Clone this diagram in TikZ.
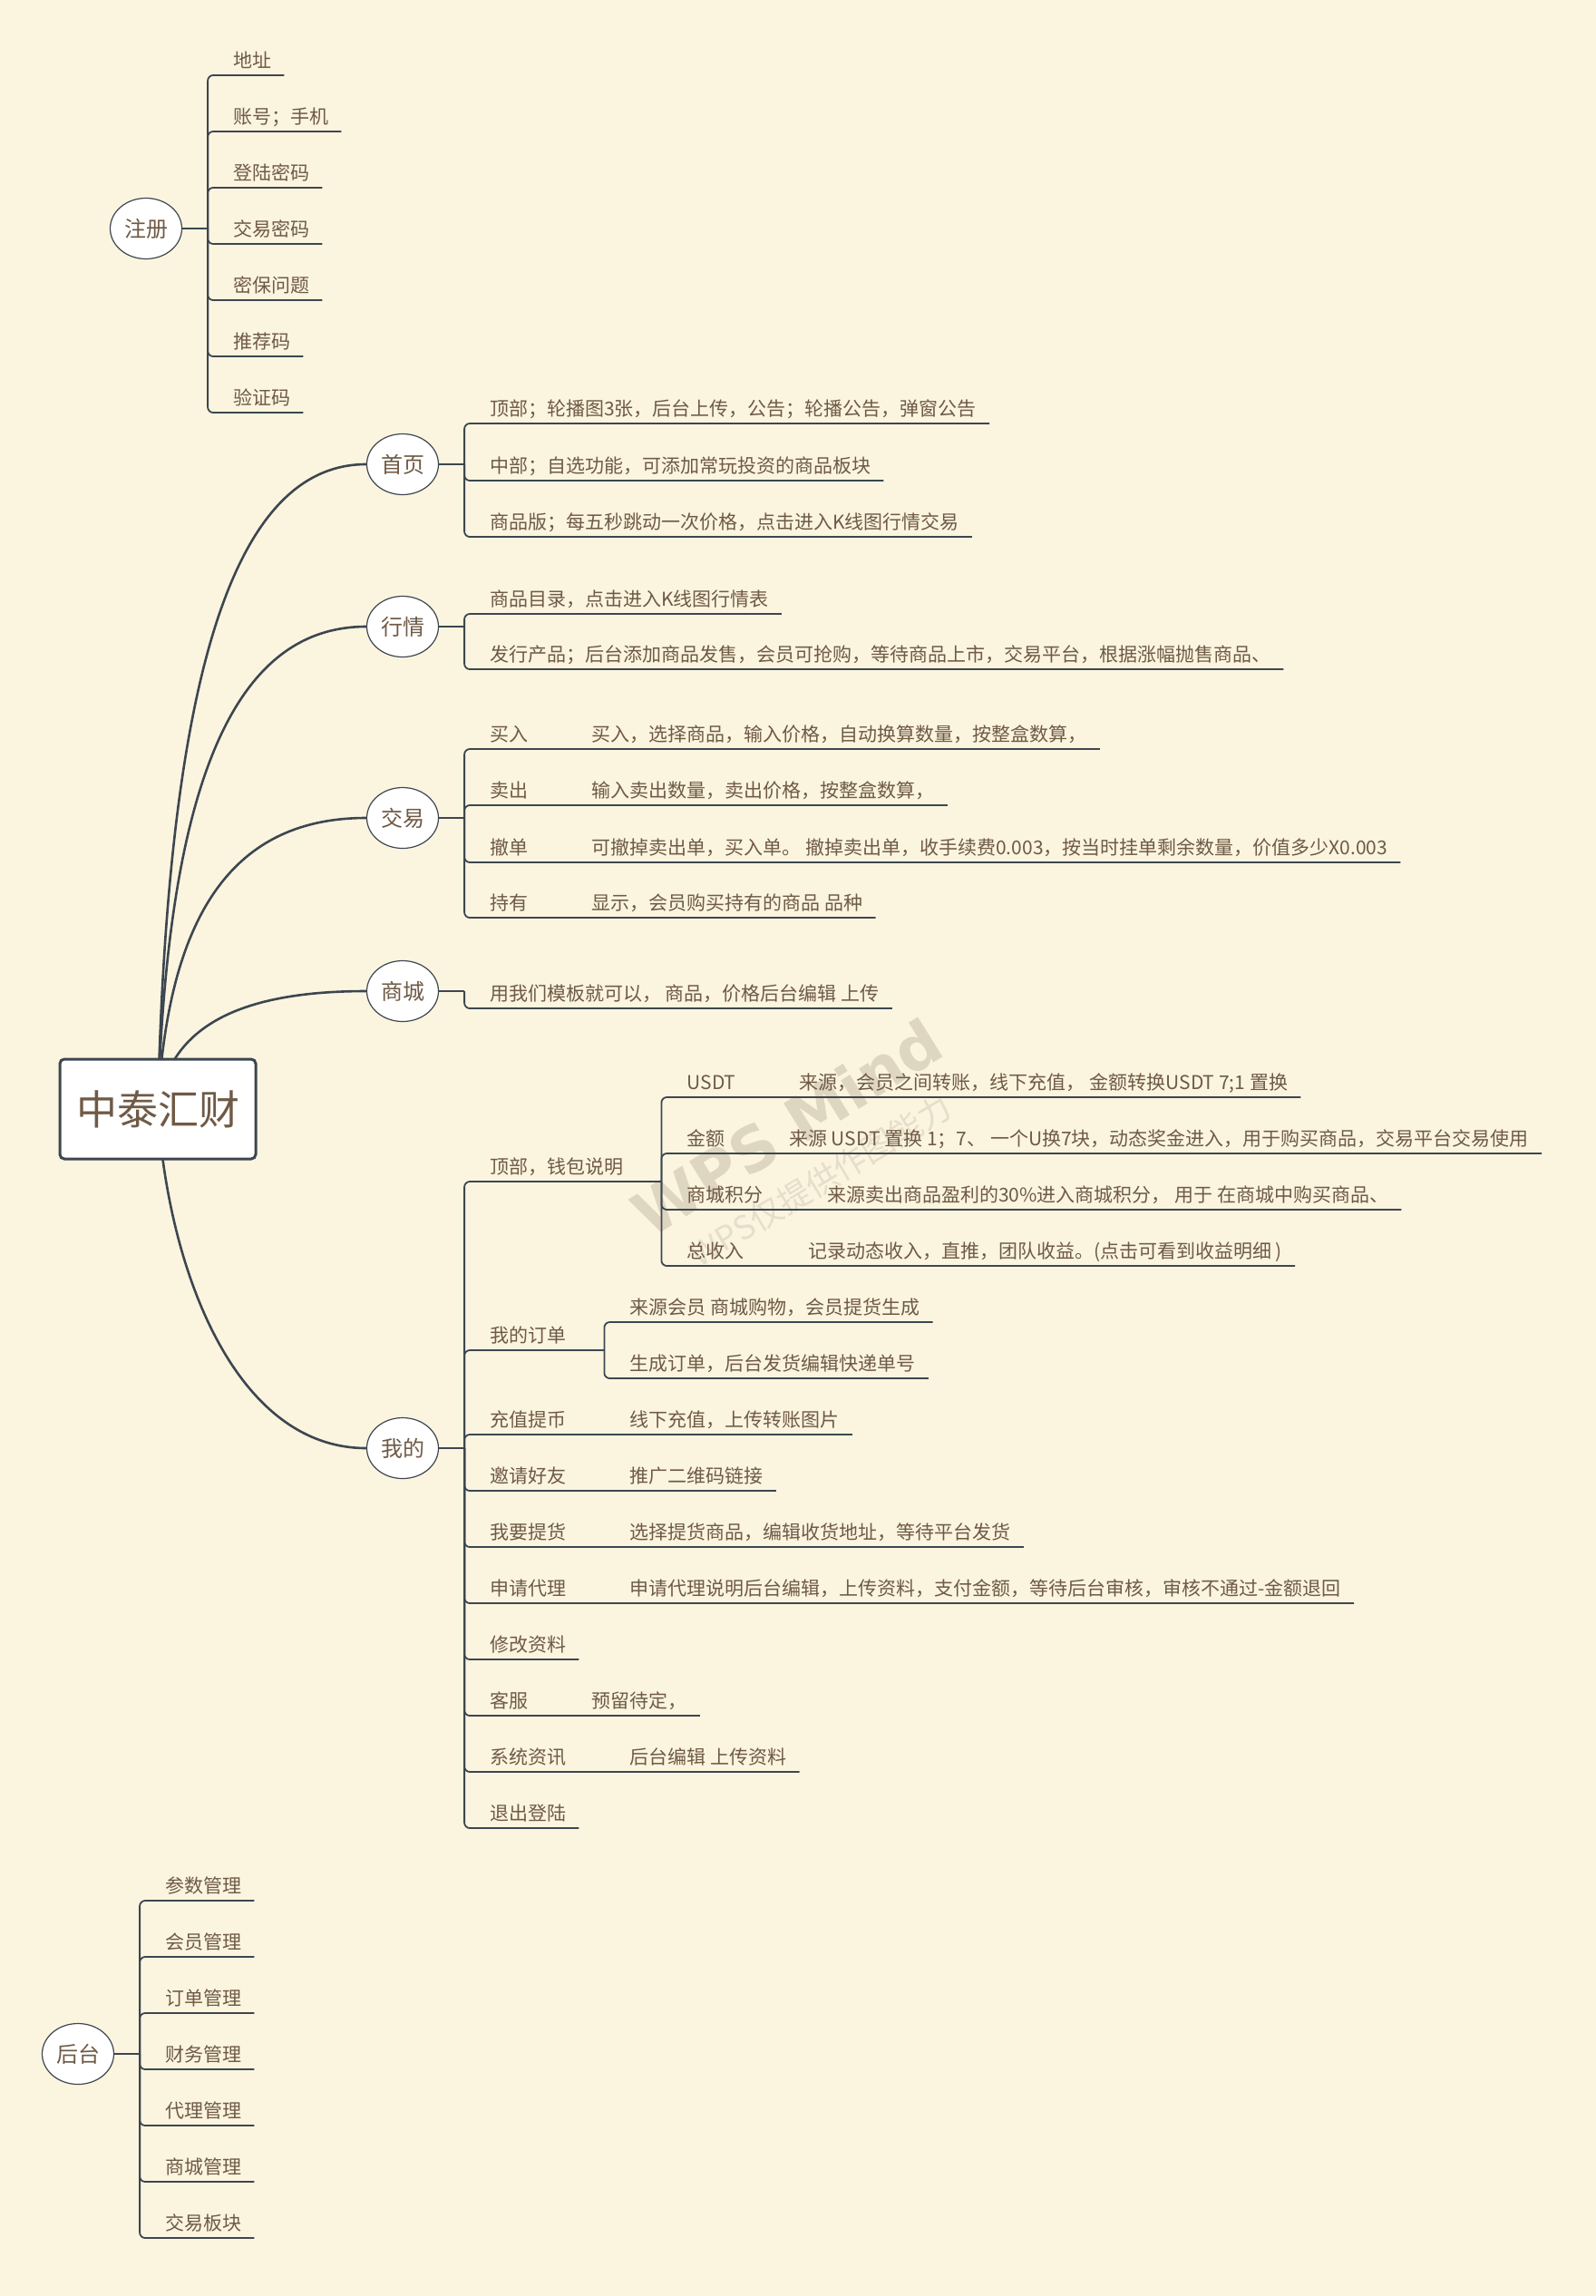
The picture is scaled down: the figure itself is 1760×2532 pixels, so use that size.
\documentclass[tikz,border=0pt]{standalone}
\usepackage{fontspec}
\setmainfont{Noto Sans CJK SC}
\newfontfamily\wmfont{DejaVu Sans}
\usetikzlibrary{shapes.geometric}
\pgfdeclarelayer{bg}
\pgfsetlayers{bg,main}
\definecolor{bgc}{HTML}{FBF5DF}
\definecolor{lc}{HTML}{3D4650}
\definecolor{tc}{HTML}{6F5A45}
\definecolor{wmc}{HTML}{DFD6C1}
\definecolor{wmd}{HTML}{E6DECA}
\begin{document}
\begin{tikzpicture}[x=1pt,y=-1pt,
  txt/.style={font=\fontsize{21}{25}\selectfont, text=tc, inner xsep=14pt, inner ysep=4pt, text depth=4pt, anchor=south west},
  mainn/.style={ellipse, draw=lc, line width=1.2pt, fill=white, minimum width=79pt, minimum height=67pt, inner sep=0pt, font=\fontsize{24}{28}\selectfont, text=tc},
  rootn/.style={rectangle, rounded corners=5pt, draw=lc, line width=3pt, fill=white, minimum width=216pt, minimum height=110pt, font=\fontsize{45}{50}\selectfont, text=tc},
  br/.style={draw=lc, line width=1.8pt, rounded corners=6pt},
  stem/.style={draw=lc, line width=2.4pt},
  curve/.style={draw=lc, line width=2.6pt}]
\begin{pgfonlayer}{bg}
\fill[bgc] (0,0) rectangle (1760,2532);
\node[rotate=32, text=wmc, font=\wmfont\bfseries\fontsize{68}{70}\selectfont] (wm1) at (868,1243) {WPS Mind};
\node[rotate=31, text=wmd, font=\fontsize{36}{40}\selectfont] (wm2) at (905,1302) {WPS仅提供作图能力};
\end{pgfonlayer}
\useasboundingbox (0,0) rectangle (1760,2532);

% root and main topics
\node[rootn] (root) at (174,1223) {中泰汇财};
\node[mainn] (zc) at (161,252) {注册};
\node[mainn] (sy) at (444,512) {首页};
\node[mainn] (hq) at (444,691) {行情};
\node[mainn] (jy) at (444,902) {交易};
\node[mainn] (sc) at (444,1093) {商城};
\node[mainn] (wd) at (444,1597) {我的};
\node[mainn] (ht) at (86,2265) {后台};

\foreach \n in {zc,sy,hq,jy,sc,wd,ht}{
  \coordinate (j\n) at ([xshift=28pt]\n.east);
  \draw[stem] (\n.east) -- (j\n);
}

\begin{pgfonlayer}{bg}
\draw[curve] (root.center) .. controls (185,740) and (259,512) .. (sy.west);
\draw[curve] (root.center) .. controls (185,861) and (259,691) .. (hq.west);
\draw[curve] (root.center) .. controls (185,1005) and (259,902) .. (jy.west);
\draw[curve] (root.center) .. controls (185,1135) and (259,1093) .. (sc.west);
\draw[curve] (root.center) .. controls (185,1400) and (259,1597) .. (wd.west);
\end{pgfonlayer}

% 注册
\node[txt] (zc1) at (243,83) {地址};
\node[txt] (zc2) at (243,145) {账号；手机};
\node[txt] (zc3) at (243,207) {登陆密码};
\node[txt] (zc4) at (243,269) {交易密码};
\node[txt] (zc5) at (243,331) {密保问题};
\node[txt] (zc6) at (243,393) {推荐码};
\node[txt] (zc7) at (243,455) {验证码};
\foreach \i in {1,...,7}{\draw[br] (jzc) |- (zc\i.south east);}

% 首页
\node[txt] (sy1) at (526,467) {顶部；轮播图3张，后台上传，公告；轮播公告，弹窗公告};
\node[txt] (sy2) at (526,530) {中部；自选功能，可添加常玩投资的商品板块};
\node[txt] (sy3) at (526,592) {商品版；每五秒跳动一次价格，点击进入K线图行情交易};
\foreach \i in {1,2,3}{\draw[br] (jsy) |- (sy\i.south east);}

% 行情
\node[txt] (hq1) at (526,677) {商品目录，点击进入K线图行情表};
\node[txt] (hq2) at (526,738) {发行产品；后台添加商品发售，会员可抢购，等待商品上市，交易平台，根据涨幅抛售商品、};
\foreach \i in {1,2}{\draw[br] (jhq) |- (hq\i.south east);}

% 交易
\node[txt] (jy1) at (526,826) {买入};
\node[txt] (jy1d) at ([xshift=42pt]jy1.south east) {买入，选择商品，输入价格，自动换算数量，按整盒数算，};
\node[txt] (jy2) at (526,888) {卖出};
\node[txt] (jy2d) at ([xshift=42pt]jy2.south east) {输入卖出数量，卖出价格，按整盒数算，};
\node[txt] (jy3) at (526,951) {撤单};
\node[txt] (jy3d) at ([xshift=42pt]jy3.south east) {可撤掉卖出单，买入单。 撤掉卖出单，收手续费0.003，按当时挂单剩余数量，价值多少X0.003};
\node[txt] (jy4) at (526,1012) {持有};
\node[txt] (jy4d) at ([xshift=42pt]jy4.south east) {显示，会员购买持有的商品 品种};
\foreach \i in {1,...,4}{\draw[br] (jjy) |- (jy\i.south east) -- (jy\i d.south east);}

% 商城
\node[txt] (sc1) at (526,1112) {用我们模板就可以， 商品，价格后台编辑 上传};
\draw[br] (jsc) |- (sc1.south east);

% 我的
\node[txt] (wallet) at (526,1303) {顶部，钱包说明};
\coordinate (jwal) at ([xshift=28pt]wallet.south east);
\coordinate (jwx) at ([xshift=14pt]jwal);
\node[txt] (w1) at ([yshift=93pt]jwx) {USDT};
\node[txt] (w1d) at ([xshift=42pt]w1.south east) {来源，会员之间转账，线下充值， 金额转换USDT 7;1 置换};
\node[txt] (w2) at ([yshift=31pt]jwx) {金额};
\node[txt] (w2d) at ([xshift=42pt]w2.south east) {来源 USDT 置换 1；7、 一个U换7块，动态奖金进入，用于购买商品，交易平台交易使用};
\node[txt] (w3) at ([yshift=-31pt]jwx) {商城积分};
\node[txt] (w3d) at ([xshift=42pt]w3.south east) {来源卖出商品盈利的30\%进入商城积分， 用于 在商城中购买商品、};
\node[txt] (w4) at ([yshift=-93pt]jwx) {总收入};
\node[txt] (w4d) at ([xshift=42pt]w4.south east) {记录动态收入，直推，团队收益。(点击可看到收益明细 )};
\draw[br] (jwd) |- (wallet.south east) -- (jwal);
\foreach \i in {1,...,4}{\draw[br] (jwal) |- (w\i.south east) -- (w\i d.south east);}

\node[txt] (order) at (526,1489) {我的订单};
\coordinate (jord) at ([xshift=28pt]order.south east);
\coordinate (jox) at ([xshift=14pt]jord);
\node[txt] (o1) at ([yshift=31pt]jox) {来源会员 商城购物，会员提货生成};
\node[txt] (o2) at ([yshift=-31pt]jox) {生成订单，后台发货编辑快递单号};
\draw[br] (jwd) |- (order.south east) -- (jord);
\foreach \i in {1,2}{\draw[br] (jord) |- (o\i.south east);}

\node[txt] (m1) at (526,1582) {充值提币};
\node[txt] (m1d) at ([xshift=42pt]m1.south east) {线下充值，上传转账图片};
\node[txt] (m2) at (526,1644) {邀请好友};
\node[txt] (m2d) at ([xshift=42pt]m2.south east) {推广二维码链接};
\node[txt] (m3) at (526,1706) {我要提货};
\node[txt] (m3d) at ([xshift=42pt]m3.south east) {选择提货商品，编辑收货地址，等待平台发货};
\node[txt] (m4) at (526,1768) {申请代理};
\node[txt] (m4d) at ([xshift=42pt]m4.south east) {申请代理说明后台编辑，上传资料，支付金额，等待后台审核，审核不通过-金额退回};
\node[txt] (m5) at (526,1830) {修改资料};
\node[txt] (m6) at (526,1892) {客服};
\node[txt] (m6d) at ([xshift=42pt]m6.south east) {预留待定，};
\node[txt] (m7) at (526,1954) {系统资讯};
\node[txt] (m7d) at ([xshift=42pt]m7.south east) {后台编辑 上传资料};
\node[txt] (m8) at (526,2016) {退出登陆};
\foreach \i in {1,2,3,4,6,7}{\draw[br] (jwd) |- (m\i.south east) -- (m\i d.south east);}
\foreach \i in {5,8}{\draw[br] (jwd) |- (m\i.south east);}

% 后台
\node[txt] (ht1) at (168,2096) {参数管理};
\node[txt] (ht2) at (168,2158) {会员管理};
\node[txt] (ht3) at (168,2220) {订单管理};
\node[txt] (ht4) at (168,2282) {财务管理};
\node[txt] (ht5) at (168,2344) {代理管理};
\node[txt] (ht6) at (168,2406) {商城管理};
\node[txt] (ht7) at (168,2468) {交易板块};
\foreach \i in {1,...,7}{\draw[br] (jht) |- (ht\i.south east);}
\end{tikzpicture}
\end{document}
